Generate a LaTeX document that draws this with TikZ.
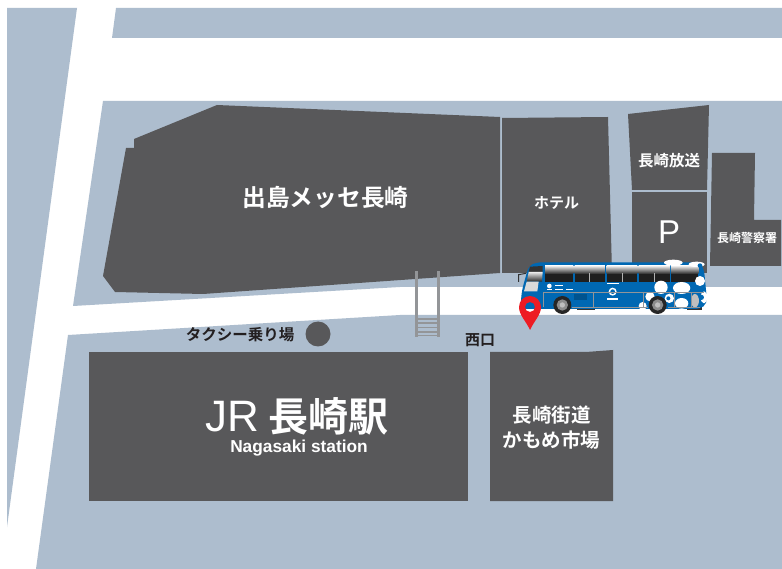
\documentclass[tikz,border=0pt]{standalone}
\usepackage{fontspec}
\setmainfont{Liberation Sans}
\newfontfamily\cjk{Noto Sans CJK JP}[BoldFont={Noto Sans CJK JP Bold}]
\definecolor{blockblue}{HTML}{ADBDCE}
\definecolor{bldg}{HTML}{58585A}
\definecolor{inktext}{HTML}{231F20}
\definecolor{railgray}{HTML}{939598}
\definecolor{busblue}{HTML}{0068B3}
\definecolor{pinred}{HTML}{ED1C24}
\tikzset{
  block/.style={fill=blockblue,draw=none},
  building/.style={fill=bldg,draw=none},
  rail/.style={fill=railgray,draw=none},
  wlabel/.style={text=white,font=\cjk\bfseries,inner sep=0pt},
  klabel/.style={text=inktext,font=\cjk\bfseries,inner sep=0pt},
  spot/.style={fill=white,draw=none},
  buswin/.style={draw=none,top color=black!8,bottom color=black!85},
}
\begin{document}
\begin{tikzpicture}[x=1pt,y=-1pt]
\useasboundingbox (0,0) rectangle (782,569);
\fill[white] (0,0) rectangle (782,569);
% city blocks
\fill[block] (7,8) -- (77,8) -- (7,527) -- cycle;
\fill[block] (116,8) -- (782,8) -- (782,38) -- (112,38) -- cycle;
\fill[block] (103,101) -- (782,101) -- (782,287) -- (400,287) -- (73,306) -- cycle;
\fill[block] (68,335) -- (400,315) -- (782,315) -- (782,569) -- (36,569) -- cycle;
% buildings
\fill[building] (134,139) -- (217,105) -- (500,117) -- (500,273) -- (203,294) -- (115,292) -- (103,276) -- (126,148) -- (134,148) -- cycle;
\fill[building] (502,118) -- (608,117) -- (612,273) -- (502,273) -- cycle;
\fill[building] (628,114) -- (709,105) -- (707,190) -- (632,190) -- cycle;
\fill[building] (632,192) -- (707,192) -- (707,273) -- (632,273) -- cycle;
\fill[building] (712,153) -- (755,153) -- (754,220) -- (781,220) -- (781,266) -- (710,266) -- cycle;
\fill[building] (89,352) rectangle (468,501);
\fill[building] (490,352) -- (586,352) -- (613,350) -- (613,501) -- (490,501) -- cycle;
% stairs
\fill[rail] (415,271) rectangle (418,337);
\fill[rail] (437,271) rectangle (440,337);
\foreach \yy in {319,323,327.5,332,335.5} \fill[rail] (418,\yy-.6) rectangle (437,\yy+.6);
% taxi stand
\node[fill=bldg,circle,minimum size=25pt,inner sep=0pt] (taxidot) at (318,334) {};
% labels
\node[wlabel,font=\cjk\bfseries\fontsize{23.7}{26}\selectfont] (messe) at (325.5,197) {出島メッセ長崎};
\node[wlabel,font=\cjk\bfseries\fontsize{15}{18}\selectfont] (hotel) at (556.5,203) {ホテル};
\node[wlabel,font=\cjk\bfseries\fontsize{15.5}{18}\selectfont] (nbc) at (669,161) {長崎放送};
\node[wlabel,font=\fontsize{33}{36}\selectfont] (park) at (669,232) {P};
\node[wlabel,font=\cjk\bfseries\fontsize{12}{14}\selectfont] (police) at (747,238) {長崎警察署};
\node[klabel,font=\cjk\bfseries\fontsize{15.5}{18}\selectfont] (taxi) at (240,335) {タクシー乗り場};
\node[klabel,font=\cjk\bfseries\fontsize{15}{18}\selectfont] (west) at (480,340) {西口};
\node[wlabel,font=\cjk\bfseries\fontsize{40}{44}\selectfont] (jr) at (297,416) {{\rmfamily\mdseries\fontsize{44}{44}\selectfont JR} 長崎駅};
\node[wlabel,font=\bfseries\fontsize{17.3}{20}\selectfont] (en) at (299,448.5) {Nagasaki station};
\node[wlabel,align=center,font=\cjk\bfseries\fontsize{19.5}{25}\selectfont] (kamome) at (551.5,428) {長崎街道\\かもめ市場};
% bus (zoomed coordinates)
\begin{scope}[shift={(500,250)},x=0.3333pt,y=-0.3333pt]
  \path[fill=white] (62,120) rectangle (622,180);
  \fill[black!80] (230,170) rectangle (285,180);
  \fill[black!80] (560,170) rectangle (605,180);
  \fill[busblue,rounded corners=5pt] (62,160) -- (66,120) -- (86,48) -- (110,37) -- (600,37) -- (612,58) -- (618,120) -- (622,160) -- (600,177) -- (62,177) -- cycle;
  % windscreen and mirror
  \fill[black!80] (90,50) -- (128,48) -- (128,66) -- (86,66) -- cycle;
  \shade[buswin] (86,66) -- (128,66) -- (126,95) -- (80,95) -- cycle;
  \fill[white!85!black] (80,95) -- (116,95) -- (112,124) -- (72,124) -- cycle;
  \draw[black!80,line width=1pt] (78,70) -- (56,74) -- (56,96);
  % side windows
  \foreach \xa/\xb in {135/220,224/315,320/412,416/510,513/595}{
    \shade[buswin] (\xa,48) rectangle (\xb,72);
    \fill[black!88] (\xa,72) rectangle (\xb,95);
  }
  \foreach \xm in {269,367,463} \fill[black!30] (\xm-.8,70) rectangle (\xm+.8,95);
  % white spots
  \fill[spot] (520,38) ellipse (28 and 9);
  \fill[spot] (590,43) ellipse (24 and 8);
  \fill[busblue] (600,47) circle (7);
  \fill[spot] (600,93) circle (15);
  \fill[spot] (483,112) circle (20);
  \fill[spot] (545,114) ellipse (26 and 18);
  \fill[spot] (450,140) circle (14);
  \fill[spot] (508,145) circle (14);
  \fill[busblue] (505,145) circle (6);
  \fill[spot] (545,160) ellipse (20 and 16);
  \fill[black!25] (585,152) ellipse (12 and 20);
  \fill[spot] (612,142) ellipse (10 and 18);
  \fill[busblue] (604,142) circle (8);
  \fill[spot] (428,168) circle (12);
  % logo and small white marks
  \fill[spot] (338,125) circle (12);
  \fill[busblue] (338,125) circle (7);
  \fill[spot] (148,108) circle (7);
  \fill[spot] (320,100) rectangle (358,103);
  \fill[spot] (320,145) rectangle (354,149);
  \fill[spot] (140,118) rectangle (156,120);
  \fill[spot] (165,106) rectangle (190,108);
  \fill[spot] (165,116) rectangle (190,119);
  \fill[spot] (198,117) rectangle (220,120);
  % side rail lines
  \draw[railgray,line width=1pt] (130,127) -- (612,127);
  \draw[railgray,line width=1pt] (130,127) -- (130,172);
  \draw[railgray,line width=1pt] (215,172) -- (445,172);
  \draw[railgray,line width=1pt] (505,172) -- (600,172);
  \foreach \xr in {280,430,525,575} \draw[railgray,line width=1pt] (\xr,127) -- (\xr,172);
  % luggage door
  \fill[black!20!busblue] (222,132) rectangle (262,150);
  % wheels
  \foreach \xw in {187,473}{
    \fill[black!85] (\xw,165) circle (27);
    \fill[black!45] (\xw,165) circle (17);
    \fill[black!25] (\xw,165) circle (8);
  }
\end{scope}
% pin
\fill[pinred,even odd rule] (530,330) .. controls (526,321) and (519,315) .. (519,307) arc[start angle=180,end angle=360,radius=11] .. controls (541,315) and (534,321) .. (530,330) -- cycle (535,307) arc[start angle=0,end angle=360,radius=5] -- cycle;
\end{tikzpicture}
\end{document}
